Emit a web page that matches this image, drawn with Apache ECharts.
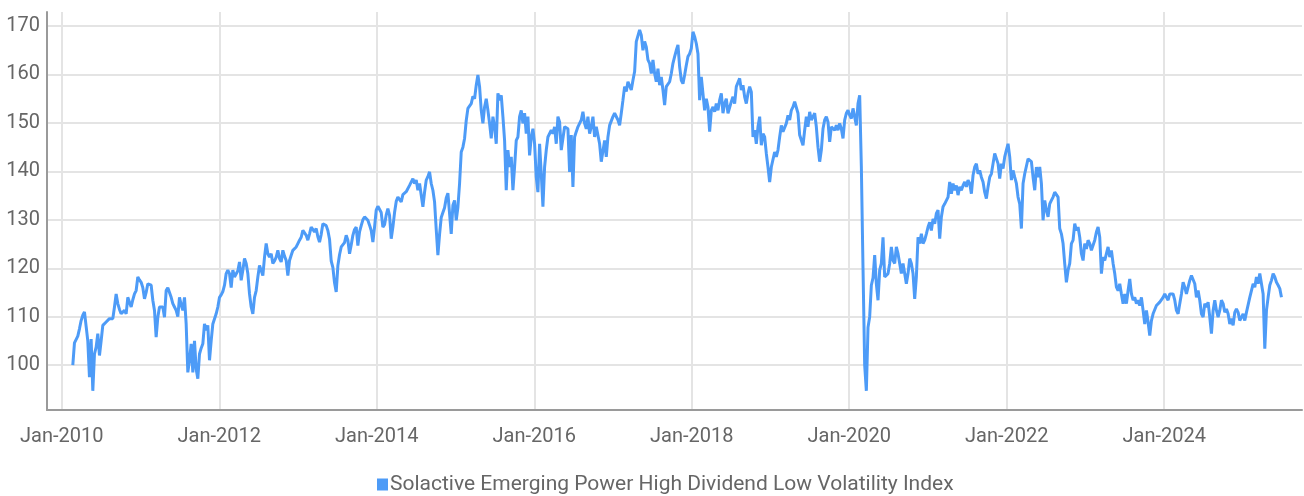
<!DOCTYPE html>
<html><head><meta charset="utf-8">
<script src="https://cdn.jsdelivr.net/npm/echarts@6/dist/echarts.min.js"></script>
<style>html,body{margin:0;padding:0;background:#fff}#c{width:1304px;height:496px}</style>
</head><body><div id="c"></div>
<script>
const seriesName = 'Solactive Emerging Power High Dividend Low Volatility Index';
const firstDate = '2010-02-21';
const sampleDays = 7.733;

const part1 = [100,104.6,105,106,107.5,109.2,110.3,111,108,105,97.5,105.4,94.7,102.3,103.7,106.5,102,105,108.2,108.5,108.9,109.3,109.6,109.6,109.6,112,114.7,112.7,111.5,110.6,111,111.3,110.6,114,113,112,113.5,114.7,115.4,118.2,117.6,117.1,116,113.7,115,116.8,116.6,116.5,113.4,111.3,105.8,109.9,112,112,112,109.9,115.4,116];
const part2 = [115,114,112.7,112,111.3,110,114,112.5,111.3,114,108.5,98.5,101,104.4,98.5,105,99.2,97.2,102.3,103.5,104.4,108.5,107.2,108.2,101,105,108.5,108.5,110.6,112,114,114.5,115.2,116.5,118.9,119.6,118.9,116,119.6,118.2,117.8,119.5,121.3,117.5,119.6,122,121,118.9,114.7,112,110.6,114,115.4,118.2,120.6,120.2,118.5,122.3,125.1,123,122.3,123,121,121.5,122.3,123.7,122,121.3,123.7,122.5,121.6,118.5,121.6,122.7,123.7,124,124.4,125.1];
const part3 = [125.8,126.4,127.8,127.5,126.8,125.8,127.1,128.5,128.9,127.5,128.2,126.5,125.4,127,129.2,129.5,128.8,127.8,126,121.5,120.2,117,115.1,120.5,122.8,124.4,124.6,125.3,126.8,125.8,123,124.8,126.8,128,128.5,124.7,127.5,128.8,130,130.6,130.9,129.9,128.9,127.8,125.4,128.5,132,132.8,133.2,131.5,128.5,129,131,132.3,130.9,126.1,128.5,131.5,133.8,134.7,134.3,133.7,135.2,135.5,135.8,136.1,137.1,137.1,138.5,137.5,138.2,136.1,137.5,137.8,132.7,135.7,138.2,138.9];
const part4 = [139.9,137.5,136.1,133.7,128,122.7,127,130.5,131.5,132.5,134.5,135.5,135.3,127.1,133,134,129.9,132.6,137.5,144,145,146.8,150.5,153,152.6,154,155.5,155,157.8,159.9,157.5,152.6,149.9,153.3,155,152.6,149.9,146.8,151.3,149.2,145.7,156.1,154.7,155.7,151.3,146.4,136.1,144.4,140.9,143,136.1,140.9,146.4,147.1,151.3,152.6,149.9,152,147.8,151.3,143.3,147.1,148.8,145.7,138.8,135.7,145.7,139.5,132.7,140.9,144.4,147.1,147.5,148.5,147.8,149.2,145.7,151.3];
const part5 = [150.2,144.4,144,149.2,149.5,148.8,139.9,147.5,136.8,147.1,148.2,149.2,149.9,150.6,152.3,149.9,148.8,151.3,147.8,149.2,151.3,147.1,149.2,148.8,145.7,142,141.6,146.4,143,147.1,149.5,149.9,151.3,152,152.3,150.6,149.5,152,154.7,157.5,156.5,158.5,158.2,156.8,158.8,160.6,166.8,166.4,169.2,168.1,165,166.8,165.7,163,162.3,160.2,163,160.2,158.5,161.2,157.8,159.5,156.8,153.7,157.5,157.8,158.5,160.2,162.3,163.7,165,166.1,161.6,158.8,158.1,159.9,161.9,163.7];
const part6 = [164.3,165.4,168.8,167.8,166.4,164.3,154.7,159.5,159.9,152.6,155,153.3,148.2,152.6,153.3,152.3,154,152.6,154.7,156.1,152,154,155,152,151.6,154.4,155.4,154,157.5,157.8,159.2,156.8,157.8,155.4,154,156.1,157.5,156.4,147.1,148.5,145.7,149.2,151.3,145.4,147.8,147.1,143.7,140.9,137.8,140.9,141.3,144,143,144.4,147.1,149.5,148.2,148.5,149.9,151.6,150.6,152.6,153.3,154.4,154.7,152,147.5,147.8,145.4,148.5,151.3,149.2,152.3,150.6,151.3,152,149.2,145];
const part7 = [142,144.4,148.8,150.6,151.3,150.2,146.1,149.2,149.5,148.5,149.5,148.5,149.9,148.8,146.8,150.6,152,152.6,151.6,150.9,153,153.3,149.5,154,155.7,141,120,100,94.7,107.8,110,116.5,118,122.7,116.8,113.4,119.6,121,126.4,118.2,118.2,118.9,121,124.4,121.6,121,124.4,123,121,118.9,121,118.9,116.8,118.9,122,121,118.9,113.7,118.2,126.4,125.1,127.1,125.1,125.8,127.1,128.5,129.5,127.8,130.2,129.2,131.3,132,126.1,130.6,132.7,133.3,133,134.7];
const part8 = [137.8,135.4,137.5,136.1,137.1,135.1,136.8,136.1,137.1,137.8,136.8,138.2,137.5,135.4,139.2,140.9,141.6,139.5,140.2,138.8,137.8,135.7,134.4,136.8,138.8,139.5,141.6,143.7,144,141.6,138.5,141.6,140.6,143,144.4,145.7,143,138.2,140.2,138.8,137.5,134.7,133.3,128.2,137.5,139.5,139.9,142.6,143,142,138.8,136.1,140.9,138.8,140.9,137.5,129.9,134,132,130.6,133.3,134,134.7,135.7,136.1,134.7,128.2,127.1,125.1,120.9,117.1,119.6,121,125.1,125.8,129.2,127.8,128.5];
const part9 = [126.4,123,121.6,125.1,124,125.8,125.1,123.7,123.3,125.8,127.5,128.5,126.4,118.9,122.3,121.6,123,124.4,122.3,123.7,121,118.9,116.1,115.4,116.8,114.7,112.7,114.7,112.7,115.4,117.8,114.7,113.4,114,112.7,113.4,112.3,114,111.3,108.5,111.3,108.9,106.1,109.2,110.6,110.9,112.3,112.7,113,113.4,114,114.7,114.3,113.4,114.7,114.3,114.7,113.4,111.3,110.6,112.7,114.7,117.1,116.1,114.7,116.1,117.5,118.5,118.9,116.8,114,115.4];
const part10 = [113.4,110.6,109.9,112.7,112,113,109.9,106.5,111.3,113.4,111.3,109.9,111.3,113.4,112.7,110.9,111.6,110.6,108.5,109.6,108.2,110.9,111.6,110.9,109.2,109.6,110.6,109.2,110.9,111.3,114,115.4,116.8,116.1,118.2,116.8,118.9,118.5,114.7,103.4,111.3,114,116.5,117.5,118.9,118.2,117.1,116.5,115.8,114];

const values = [].concat(part1, part2, part3, part4, part5, part6, part7, part8, part9, part10);

const DAY = 864e5;
const t0 = Date.parse(firstDate);
const base2010 = Date.UTC(2010, 0, 1);
const toYear = t => 2010 + (t - base2010) / (365.25 * DAY);
const data = values.map((v, i) => [toYear(t0 + i * sampleDays * DAY), v]);

const chart = echarts.init(document.getElementById('c'), null, {renderer: 'canvas'});
const FONT = 'Roboto';
chart.setOption({
  animation: false,
  backgroundColor: '#ffffff',
  grid: {left: 47, right: 2, top: 12, bottom: 86, containLabel: false},
  legend: {
    left: 372, top: 469,
    icon: 'rect', itemWidth: 11, itemHeight: 12, itemGap: 10,
    textStyle: {fontFamily: FONT, fontSize: 21, color: '#666666', padding: [0, 0, 0, -3]},
    data: [seriesName]
  },
  xAxis: {
    type: 'value',
    min: 2009.812, max: 2025.75, splitNumber: 8,
    axisLine: {show: true, lineStyle: {color: '#9a9a9a', width: 2}},
    axisTick: {show: false},
    axisLabel: {
      showMinLabel: false, showMaxLabel: false,
      fontFamily: FONT, fontSize: 20, color: '#666666', margin: 17,
      formatter: v => 'Jan-' + Math.round(v)
    },
    splitLine: {show: true, showMinLine: false, showMaxLine: false, lineStyle: {color: '#e4e4e4', width: 2}}
  },
  yAxis: {
    type: 'value',
    min: 90.74, max: 172.9, splitNumber: 8,
    axisLine: {show: true, lineStyle: {color: '#9a9a9a', width: 2}},
    axisTick: {show: false},
    axisLabel: {
      showMinLabel: false, showMaxLabel: false,
      fontFamily: FONT, fontSize: 20, color: '#666666', margin: 7,
      formatter: v => String(Math.round(v))
    },
    splitLine: {show: true, showMinLine: false, showMaxLine: false, lineStyle: {color: '#e4e4e4', width: 2}}
  },
  series: [{
    name: seriesName,
    type: 'line',
    data: data,
    showSymbol: false,
    symbol: 'none',
    lineStyle: {color: '#4d9bf7', width: 3},
    itemStyle: {color: '#4d9bf7'}
  }]
});
</script>
</body></html>
